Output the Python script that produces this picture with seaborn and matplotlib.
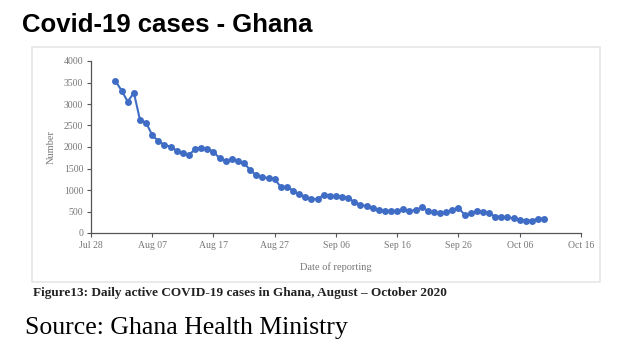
import numpy as np
import pandas as pd
import matplotlib
matplotlib.use("Agg")
import matplotlib.pyplot as plt
import matplotlib.dates as mdates
from matplotlib.patches import Rectangle
import seaborn as sns

start_date = "2020-08-01"
active_cases = [3535, 3310, 3055, 3263, 2628, 2566, 2271, 2140, 2047, 2008,
                1915, 1853, 1822, 1946, 1984, 1961, 1891, 1736, 1667, 1728,
                1674, 1620, 1465, 1341, 1295, 1279, 1248, 1070, 1077, 984,
                900, 845, 798, 783, 890, 865, 855, 840, 806, 729,
                651, 630, 574, 530, 519, 512, 512, 555, 512, 535,
                595, 515, 478, 460, 485, 540, 590, 419, 458, 512,
                490, 465, 380, 380, 365, 340, 295, 290, 290, 330,
                335]
y_ticks = [0, 500, 1000, 1500, 2000, 2500, 3000, 3500, 4000]
x_tick_dates = ["2020-07-28", "2020-08-07", "2020-08-17", "2020-08-27", "2020-09-06",
                "2020-09-16", "2020-09-26", "2020-10-06", "2020-10-16"]
x_tick_labels = ["Jul 28", "Aug 07", "Aug 17", "Aug 27", "Sep 06",
                 "Sep 16", "Sep 26", "Oct 06", "Oct 16"]

df = pd.DataFrame({
    "date": pd.date_range(start_date, periods=len(active_cases), freq="D"),
    "cases": active_cases,
})

sns.set_style("white")
W, H = 641, 356
fig = plt.figure(figsize=(W / 100, H / 100), dpi=100)
fig.patch.set_facecolor("white")

# border of embedded figure
fig.patches.append(Rectangle((32 / W, 1 - 282 / H), (600 - 32) / W, (282 - 47) / H,
                             transform=fig.transFigure, fill=False,
                             edgecolor="#e6e6e6", linewidth=1.2))

ax = fig.add_axes([91 / W, 1 - 233 / H, (581 - 91) / W, (233 - 61) / H])
sns.lineplot(data=df, x="date", y="cases", ax=ax, color="#3f6cc4",
             linewidth=1.5, marker="o", markersize=5, markeredgewidth=0,
             markeredgecolor="#3f6cc4")

ax.set_xlim(pd.Timestamp(x_tick_dates[0]), pd.Timestamp(x_tick_dates[-1]))
ax.set_ylim(0, 4000)
ax.set_yticks(y_ticks)
ax.set_yticklabels([str(v) for v in y_ticks])
ax.set_xticks([pd.Timestamp(d) for d in x_tick_dates])
ax.set_xticklabels(x_tick_labels)

serif = ["Liberation Serif", "DejaVu Serif"]
for lab in ax.get_xticklabels() + ax.get_yticklabels():
    lab.set_family(serif)
    lab.set_fontsize(7)
    lab.set_color("#777777")
ax.tick_params(axis="both", direction="out", length=3, width=0.8,
               color="#555555", pad=2.5, left=True, bottom=True)
ax.set_xlabel("Date of reporting", family=serif, fontsize=7.5, color="#777777", labelpad=9)
ax.set_ylabel("Number", family=serif, fontsize=7.5, color="#777777", labelpad=6)
for side in ["top", "right"]:
    ax.spines[side].set_visible(False)
for side in ["left", "bottom"]:
    ax.spines[side].set_color("#555555")
    ax.spines[side].set_linewidth(0.9)
ax.grid(False)
ax.set_facecolor("white")

fig.text(22 / W, 1 - 25 / H, "Covid-19 cases - Ghana", family=["Liberation Sans", "DejaVu Sans"],
         fontweight="bold", fontsize=18.5, color="black", va="center", ha="left")
fig.text(33 / W, 1 - 293 / H,
         "Figure13: Daily active COVID-19 cases in Ghana, August \u2013 October 2020",
         family=serif, fontweight="bold", fontsize=9.5, color="#222222",
         va="center", ha="left")
fig.text(25 / W, 1 - 328 / H, "Source: Ghana Health Ministry", family=serif,
         fontsize=18.5, color="black", va="center", ha="left")

fig.savefig("out.png", dpi=100, facecolor="white")
